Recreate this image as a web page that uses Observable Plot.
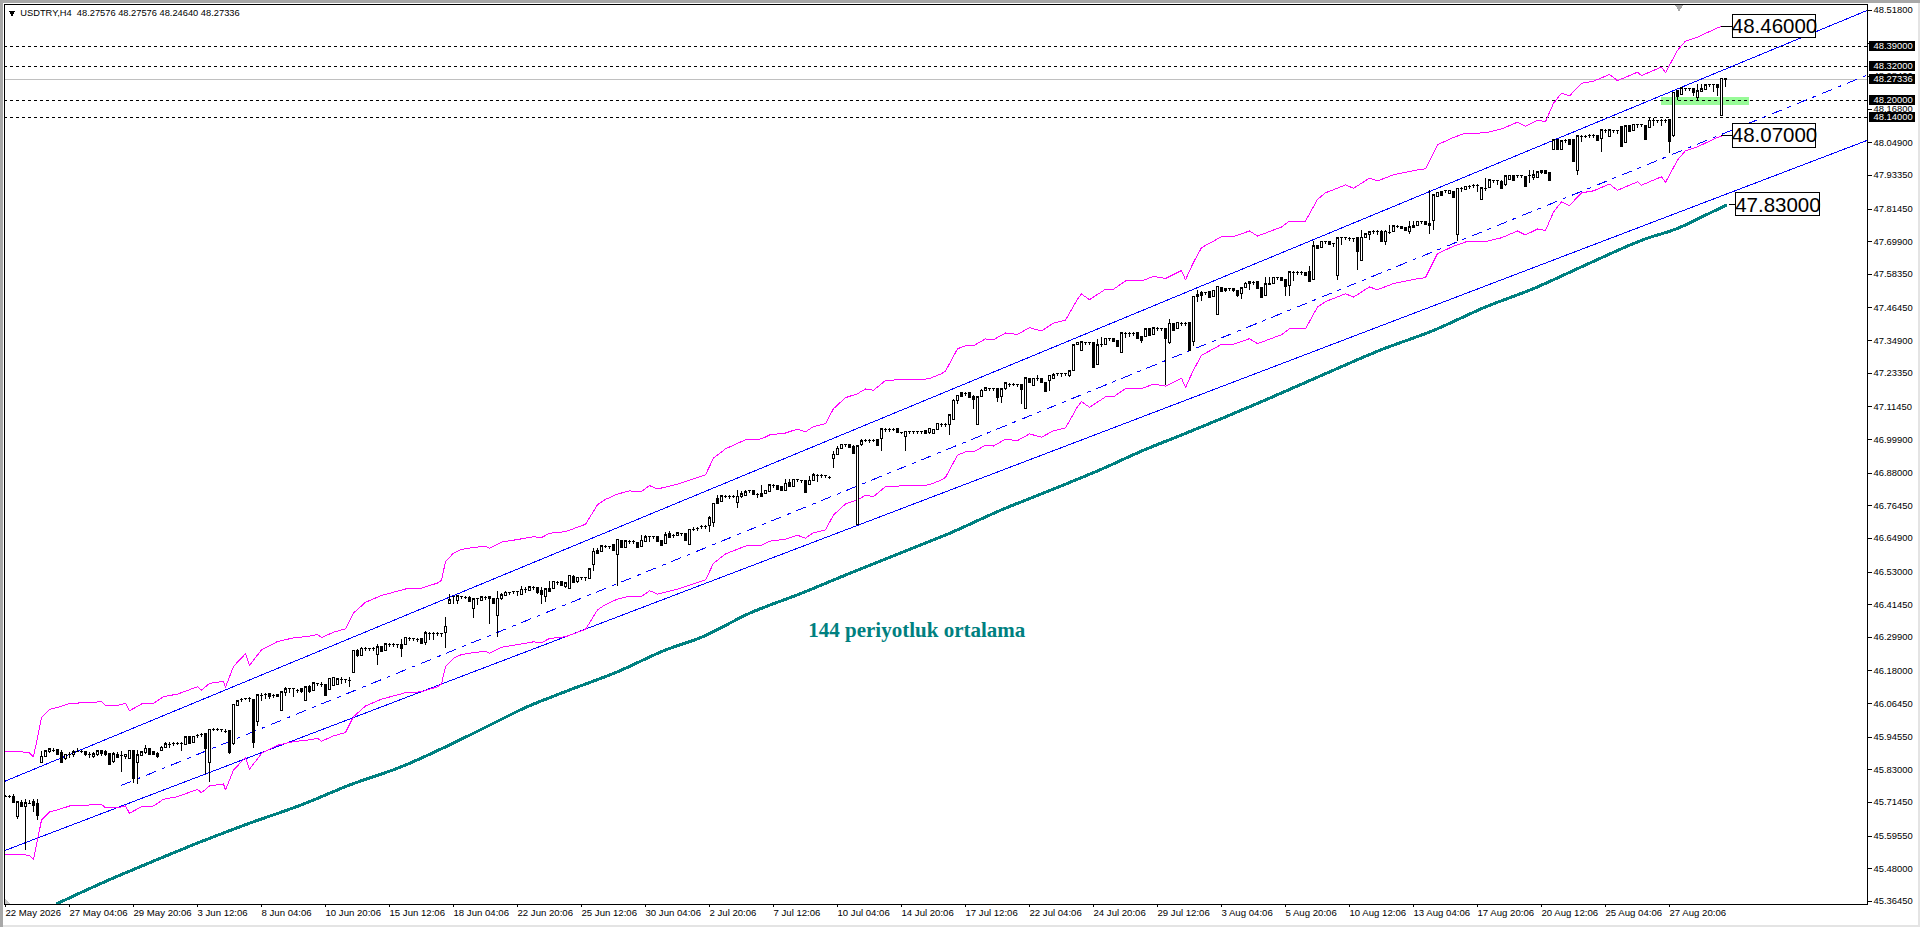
<!DOCTYPE html>
<html>
<head>
<meta charset="utf-8">
<title>USDTRY,H4</title>
<script src="https://cdn.jsdelivr.net/npm/d3@7"></script>
<script src="https://cdn.jsdelivr.net/npm/@observablehq/plot@0.6"></script>
<style>
html,body{margin:0;padding:0;background:#fff;overflow:hidden}
svg{display:block}
body::after{content:"";position:fixed;inset:0;pointer-events:none;box-shadow:inset 3px 3px 0 #a8a8a8,inset -2px -2px 0 #e4e4e4}
</style>
</head>
<body>
<div id="chart"></div>
<script>
const opens = [
45.735,45.735,45.735,45.662,45.713,45.699,45.711,45.716,45.709,45.855,45.876,45.893,45.900,45.900,45.888,45.869,
45.886,45.881,45.895,45.895,45.893,45.883,45.874,45.881,45.895,45.893,45.886,45.857,45.883,45.879,45.874,45.869,
45.897,45.855,45.879,45.888,45.905,45.893,45.886,45.897,45.907,45.921,45.924,45.924,45.924,45.917,45.945,45.924,
45.952,45.954,45.957,45.853,45.973,45.973,45.971,45.966,45.968,45.921,46.056,46.079,46.082,46.082,46.077,46.000,
46.094,46.098,46.098,46.094,46.095,46.039,46.101,46.117,46.117,46.112,46.115,46.072,46.124,46.110,46.134,46.131,
46.131,46.113,46.127,46.129,46.150,46.148,46.146,46.172,46.252,46.233,46.259,46.259,46.261,46.238,46.266,46.252,
46.275,46.275,46.273,46.273,46.271,46.294,46.294,46.292,46.292,46.278,46.313,46.313,46.313,46.311,46.313,46.417,
46.443,46.429,46.443,46.441,46.438,46.400,46.436,46.429,46.441,46.441,46.436,46.375,46.436,46.445,46.457,46.460,
46.460,46.448,46.467,46.462,46.476,46.474,46.464,46.443,46.471,46.471,46.493,46.495,46.478,46.471,46.511,46.493,
46.509,46.509,46.507,46.556,46.606,46.601,46.622,46.620,46.625,46.592,46.641,46.615,46.639,46.639,46.634,46.620,
46.637,46.655,46.655,46.655,46.639,46.629,46.663,46.660,46.658,46.665,46.665,46.627,46.680,46.685,46.691,46.691,
46.693,46.705,46.790,46.778,46.799,46.799,46.799,46.773,46.797,46.799,46.818,46.818,46.806,46.806,46.806,46.813,
46.837,46.835,46.830,46.818,46.846,46.832,46.856,46.853,46.851,46.839,46.851,46.872,46.872,46.870,46.865,46.931,
46.945,46.967,46.981,46.981,46.974,46.698,46.978,46.997,46.997,46.997,46.997,47.002,47.035,47.035,47.035,47.035,
47.023,47.009,47.026,47.026,47.026,47.026,47.028,47.021,47.019,47.033,47.052,47.052,47.051,47.068,47.136,47.162,
47.162,47.162,47.148,47.049,47.148,47.172,47.179,47.179,47.176,47.150,47.176,47.195,47.195,47.193,47.193,47.108,
47.214,47.188,47.216,47.214,47.200,47.207,47.212,47.231,47.231,47.231,47.224,47.242,47.332,47.313,47.342,47.342,
47.342,47.264,47.337,47.334,47.356,47.353,47.346,47.306,47.375,47.375,47.375,47.375,47.363,47.363,47.389,47.368,
47.393,47.391,47.389,47.339,47.408,47.389,47.410,47.410,47.412,47.344,47.511,47.518,47.518,47.520,47.503,47.440,
47.536,47.532,47.532,47.532,47.525,47.515,47.534,47.551,47.555,47.555,47.534,47.508,47.551,47.548,47.572,47.572,
47.565,47.541,47.591,47.591,47.591,47.588,47.591,47.565,47.683,47.676,47.699,47.697,47.692,47.579,47.713,47.713,
47.711,47.709,47.711,47.631,47.711,47.721,47.735,47.735,47.735,47.699,47.732,47.735,47.754,47.751,47.749,47.735,
47.756,47.754,47.770,47.770,47.763,47.772,47.857,47.876,47.879,47.869,47.874,47.721,47.888,47.883,47.895,47.898,
47.898,47.848,47.888,47.890,47.914,47.914,47.912,47.898,47.916,47.933,47.933,47.933,47.928,47.933,47.926,47.923,
47.942,47.949,47.942,48.025,48.058,48.025,48.058,48.058,48.058,47.950,48.073,48.073,48.075,48.075,48.073,48.063,
48.094,48.070,48.091,48.091,48.106,48.047,48.110,48.091,48.113,48.113,48.110,48.103,48.127,48.127,48.129,48.129,
48.129,48.073,48.233,48.217,48.240,48.240,48.238,48.209,48.228,48.235,48.254,48.254,48.252,48.143,48.27576];
const highs = [
45.738,45.739,45.742,45.716,45.723,45.725,45.720,45.725,45.725,45.895,45.895,45.906,45.907,45.902,45.900,45.886,
45.890,45.900,45.904,45.900,45.895,45.890,45.890,45.898,45.900,45.898,45.888,45.890,45.890,45.895,45.886,45.897,
45.897,45.897,45.893,45.916,45.907,45.895,45.893,45.911,45.928,45.928,45.928,45.927,45.926,45.947,45.947,45.949,
45.954,45.957,45.958,45.973,45.976,45.975,45.973,45.971,45.970,46.060,46.077,46.082,46.084,46.087,46.080,46.094,
46.099,46.100,46.101,46.096,46.098,46.105,46.120,46.119,46.119,46.115,46.117,46.122,46.127,46.136,46.136,46.138,
46.133,46.153,46.155,46.150,46.155,46.150,46.155,46.252,46.257,46.264,46.262,46.261,46.263,46.275,46.268,46.277,
46.277,46.277,46.275,46.292,46.297,46.297,46.296,46.294,46.294,46.318,46.316,46.315,46.315,46.313,46.370,46.452,
46.445,46.445,46.445,46.443,46.445,46.436,46.438,46.445,46.444,46.443,46.438,46.460,46.455,46.460,46.459,46.462,
46.462,46.478,46.477,46.480,46.478,46.476,46.474,46.471,46.497,46.497,46.495,46.497,46.492,46.518,46.519,46.511,
46.511,46.511,46.542,46.615,46.613,46.624,46.624,46.622,46.627,46.646,46.643,46.641,46.641,46.641,46.636,46.658,
46.658,46.657,46.657,46.657,46.641,46.670,46.672,46.662,46.669,46.667,46.667,46.679,46.686,46.689,46.693,46.693,
46.726,46.773,46.802,46.801,46.801,46.801,46.801,46.818,46.815,46.818,46.820,46.820,46.808,46.837,46.820,46.839,
46.839,46.837,46.832,46.856,46.856,46.858,46.858,46.855,46.853,46.867,46.877,46.874,46.874,46.872,46.867,46.955,
46.974,46.983,46.983,46.983,46.979,46.978,47.000,46.999,46.999,46.999,46.999,47.037,47.037,47.037,47.037,47.037,
47.025,47.028,47.028,47.028,47.028,47.028,47.030,47.039,47.035,47.056,47.054,47.054,47.085,47.139,47.153,47.164,
47.164,47.164,47.155,47.150,47.175,47.183,47.181,47.181,47.178,47.178,47.200,47.197,47.197,47.195,47.195,47.218,
47.216,47.216,47.225,47.216,47.202,47.226,47.231,47.233,47.233,47.233,47.242,47.334,47.344,47.347,47.344,47.344,
47.344,47.352,47.360,47.358,47.358,47.355,47.348,47.377,47.377,47.377,47.377,47.377,47.365,47.391,47.391,47.395,
47.395,47.393,47.391,47.422,47.410,47.414,47.412,47.412,47.414,47.506,47.528,47.522,47.520,47.522,47.527,47.541,
47.538,47.534,47.534,47.534,47.527,47.536,47.553,47.557,47.557,47.557,47.536,47.572,47.572,47.574,47.574,47.574,
47.567,47.593,47.593,47.593,47.593,47.590,47.610,47.699,47.685,47.701,47.701,47.699,47.694,47.713,47.715,47.715,
47.713,47.711,47.713,47.739,47.727,47.734,47.737,47.737,47.737,47.737,47.756,47.756,47.756,47.753,47.751,47.770,
47.770,47.772,47.772,47.772,47.881,47.866,47.874,47.878,47.881,47.881,47.876,47.888,47.892,47.895,47.897,47.900,
47.900,47.890,47.921,47.918,47.916,47.916,47.914,47.935,47.935,47.935,47.935,47.935,47.930,47.952,47.952,47.947,
47.951,47.951,47.944,48.062,48.060,48.056,48.060,48.060,48.060,48.075,48.075,48.075,48.077,48.077,48.075,48.096,
48.096,48.096,48.093,48.093,48.108,48.110,48.112,48.115,48.115,48.115,48.112,48.139,48.136,48.129,48.131,48.131,
48.131,48.228,48.235,48.244,48.242,48.242,48.240,48.254,48.254,48.254,48.256,48.256,48.254,48.278,48.27576];
const lows = [
45.731,45.729,45.711,45.655,45.697,45.544,45.706,45.678,45.652,45.855,45.872,45.889,45.891,45.879,45.855,45.862,
45.871,45.873,45.890,45.889,45.876,45.871,45.871,45.876,45.876,45.876,45.848,45.853,45.869,45.820,45.867,45.869,
45.780,45.777,45.876,45.886,45.884,45.881,45.869,45.895,45.905,45.905,45.914,45.916,45.895,45.915,45.922,45.922,
45.942,45.944,45.815,45.784,45.967,45.965,45.963,45.958,45.883,45.917,46.054,46.070,46.075,46.068,45.905,45.982,
46.073,46.080,46.079,46.084,46.085,46.037,46.089,46.099,46.087,46.100,46.100,46.072,46.100,46.108,46.125,46.122,
46.094,46.111,46.125,46.127,46.132,46.137,46.122,46.172,46.228,46.230,46.250,46.248,46.250,46.200,46.244,46.250,
46.264,46.262,46.261,46.226,46.269,46.285,46.283,46.281,46.273,46.271,46.287,46.289,46.302,46.300,46.261,46.417,
46.415,46.415,46.434,46.432,46.424,46.365,46.410,46.427,46.431,46.346,46.417,46.299,46.431,46.443,46.447,46.449,
46.445,46.446,46.455,46.460,46.466,46.450,46.415,46.422,46.460,46.469,46.484,46.479,46.470,46.467,46.491,46.491,
46.500,46.498,46.505,46.533,46.592,46.599,46.612,46.610,46.604,46.478,46.616,46.613,46.628,46.629,46.616,46.618,
46.635,46.636,46.645,46.635,46.623,46.627,46.651,46.649,46.656,46.654,46.639,46.625,46.672,46.674,46.680,46.681,
46.669,46.688,46.769,46.776,46.789,46.787,46.790,46.754,46.790,46.797,46.808,46.804,46.792,46.794,46.804,46.811,
46.827,46.821,46.818,46.815,46.830,46.830,46.846,46.843,46.809,46.837,46.849,46.846,46.862,46.860,46.856,46.898,
46.943,46.965,46.971,46.969,46.948,46.698,46.976,46.987,46.986,46.988,46.976,46.955,47.025,47.024,47.029,47.021,
47.017,46.955,47.016,47.015,47.016,47.015,47.019,47.015,47.017,47.031,47.043,47.042,47.012,47.066,47.122,47.148,
47.150,47.146,47.106,47.047,47.146,47.170,47.169,47.168,47.129,47.127,47.174,47.183,47.185,47.183,47.122,47.106,
47.200,47.186,47.206,47.198,47.167,47.169,47.210,47.221,47.220,47.222,47.218,47.240,47.330,47.311,47.332,47.330,
47.252,47.262,47.325,47.332,47.346,47.344,47.325,47.304,47.356,47.360,47.364,47.354,47.339,47.361,47.366,47.366,
47.383,47.381,47.191,47.337,47.384,47.387,47.400,47.399,47.311,47.328,47.483,47.489,47.508,47.501,47.501,47.438,
47.520,47.520,47.522,47.518,47.500,47.496,47.532,47.525,47.545,47.530,47.501,47.506,47.544,47.546,47.562,47.560,
47.506,47.506,47.558,47.581,47.580,47.577,47.556,47.563,47.674,47.674,47.689,47.688,47.678,47.560,47.687,47.703,
47.700,47.697,47.598,47.629,47.709,47.704,47.725,47.720,47.697,47.687,47.725,47.733,47.744,47.742,47.735,47.723,
47.747,47.752,47.760,47.759,47.725,47.737,47.855,47.862,47.869,47.867,47.853,47.699,47.872,47.881,47.885,47.888,
47.872,47.846,47.878,47.888,47.904,47.898,47.884,47.896,47.914,47.914,47.923,47.924,47.893,47.905,47.915,47.921,
47.938,47.938,47.912,48.023,48.025,48.023,48.048,48.042,47.981,47.933,48.049,48.063,48.065,48.066,48.056,48.016,
48.082,48.068,48.081,48.080,48.035,48.045,48.087,48.089,48.099,48.102,48.059,48.101,48.106,48.117,48.108,48.119,
48.011,48.068,48.200,48.215,48.230,48.229,48.212,48.200,48.226,48.233,48.244,48.226,48.212,48.141,48.2464];
const closes = [
45.735,45.735,45.713,45.716,45.699,45.711,45.711,45.704,45.669,45.876,45.895,45.902,45.900,45.886,45.855,45.883,
45.886,45.893,45.895,45.895,45.883,45.883,45.886,45.895,45.888,45.883,45.848,45.886,45.872,45.879,45.883,45.897,
45.801,45.881,45.893,45.905,45.886,45.883,45.876,45.909,45.921,45.921,45.924,45.924,45.924,45.945,45.924,45.947,
45.952,45.954,45.905,45.971,45.973,45.973,45.971,45.966,45.893,46.060,46.072,46.079,46.082,46.082,45.928,46.094,
46.094,46.098,46.089,46.094,46.089,46.105,46.115,46.117,46.117,46.112,46.108,46.122,46.108,46.136,46.134,46.131,
46.094,46.153,46.155,46.150,46.150,46.148,46.146,46.252,46.233,46.259,46.259,46.259,46.261,46.264,46.249,46.275,
46.275,46.275,46.273,46.259,46.297,46.294,46.294,46.292,46.278,46.313,46.313,46.313,46.313,46.311,46.337,46.431,
46.443,46.445,46.443,46.441,46.426,46.434,46.436,46.441,46.441,46.436,46.419,46.436,46.448,46.457,46.457,46.460,
46.460,46.467,46.467,46.476,46.476,46.457,46.452,46.469,46.462,46.495,46.493,46.481,46.490,46.516,46.493,46.509,
46.509,46.509,46.540,46.601,46.594,46.622,46.622,46.620,46.606,46.644,46.618,46.639,46.639,46.639,46.618,46.641,
46.653,46.655,46.655,46.637,46.625,46.660,46.653,46.660,46.667,46.665,46.641,46.679,46.680,46.685,46.691,46.691,
46.721,46.771,46.771,46.799,46.799,46.799,46.799,46.797,46.806,46.813,46.818,46.806,46.806,46.797,46.818,46.837,
46.837,46.823,46.820,46.842,46.832,46.856,46.856,46.853,46.811,46.853,46.872,46.872,46.872,46.870,46.865,46.945,
46.967,46.981,46.981,46.971,46.950,46.976,46.993,46.997,46.997,46.997,46.978,47.035,47.035,47.035,47.035,47.023,
47.023,47.026,47.026,47.026,47.026,47.026,47.021,47.037,47.033,47.054,47.052,47.052,47.084,47.136,47.153,47.150,
47.162,47.148,47.141,47.148,47.172,47.181,47.179,47.179,47.146,47.176,47.198,47.195,47.195,47.193,47.176,47.216,
47.202,47.214,47.216,47.200,47.169,47.224,47.226,47.231,47.231,47.231,47.240,47.332,47.342,47.344,47.342,47.342,
47.254,47.332,47.337,47.356,47.356,47.346,47.327,47.375,47.375,47.375,47.375,47.356,47.351,47.389,47.368,47.393,
47.393,47.391,47.358,47.408,47.386,47.412,47.410,47.410,47.313,47.504,47.504,47.508,47.518,47.503,47.525,47.539,
47.522,47.525,47.532,47.525,47.508,47.534,47.551,47.555,47.555,47.532,47.503,47.548,47.546,47.572,47.572,47.562,
47.539,47.591,47.591,47.591,47.591,47.579,47.558,47.683,47.676,47.699,47.699,47.690,47.692,47.711,47.713,47.713,
47.711,47.709,47.666,47.713,47.725,47.732,47.735,47.735,47.699,47.735,47.732,47.754,47.754,47.744,47.737,47.751,
47.749,47.770,47.770,47.761,47.756,47.864,47.872,47.864,47.879,47.879,47.855,47.886,47.888,47.893,47.895,47.898,
47.898,47.888,47.888,47.916,47.914,47.914,47.886,47.931,47.933,47.916,47.933,47.933,47.895,47.933,47.935,47.945,
47.949,47.940,47.914,48.058,48.027,48.054,48.058,48.044,47.983,48.073,48.073,48.073,48.075,48.075,48.058,48.094,
48.094,48.094,48.091,48.091,48.037,48.108,48.089,48.113,48.113,48.113,48.061,48.127,48.127,48.127,48.129,48.129,
48.054,48.226,48.214,48.242,48.240,48.240,48.228,48.231,48.238,48.252,48.254,48.254,48.245,48.276,48.27336];

const envBars = [0,4,6,7,8,9,11,13,16,19,24,25,28,30,31,34,37,39.5,43,48,49,51,54.5,55,
57,60,61,64,68,72,76,78,79,82,85,87,90,94,100,104,108,109,110,112,114,117,120,121,124,128,132,134,136,140,145,148,150,153,156,159,161,163,168,175,177,180,185,189,191,195,198,200,202,205,207,210,213,215,217,220,227,229,231,234,235,238,240,242,245,247,250,253,256,259,262,265,268,269,271,275,277,280,284,287,290,294,295,297,299,302,304,307,311,313,319,321,325,328,330,335,337,341,343,347,353,355,358,362,365,370,374,378,380,383,385,387,389,391,394,397,401,403,408,409,414,415,418,420,423,428,429];
const envLower = [45.532,45.531,45.527,45.513,45.582,45.652,45.681,45.688,45.702,45.704,45.708,45.695,45.695,45.702,45.676,45.700,45.702,45.726,45.735,45.761,45.749,45.773,45.780,45.759,
45.829,45.874,45.832,45.888,45.917,45.930,45.936,45.942,45.931,45.950,45.962,46.018,46.056,46.080,46.103,46.106,46.124,46.134,46.195,46.225,46.238,46.245,46.249,46.242,46.264,46.273,46.283,46.280,46.295,46.301,46.327,46.396,46.415,46.434,46.445,46.443,46.464,46.452,46.469,46.502,46.561,46.594,46.622,46.625,46.639,46.646,46.660,46.650,46.669,46.679,46.732,46.771,46.785,46.802,46.797,46.832,46.837,46.835,46.839,46.856,46.865,46.944,46.955,46.955,46.979,46.976,47.000,46.995,47.019,47.007,47.030,47.040,47.115,47.133,47.113,47.150,47.150,47.179,47.179,47.195,47.188,47.216,47.183,47.245,47.297,47.320,47.336,47.336,47.356,47.338,47.370,47.391,47.391,47.468,47.487,47.515,47.503,47.539,47.529,47.551,47.568,47.572,47.657,47.683,47.698,47.699,47.713,47.737,47.723,47.744,47.739,47.804,47.840,47.827,47.872,47.879,47.903,47.881,47.911,47.899,47.929,47.909,47.988,48.021,48.035,48.068,48.073];
const envUpper = [45.895,45.894,45.890,45.876,45.945,46.015,46.044,46.051,46.065,46.067,46.071,46.058,46.058,46.065,46.039,46.063,46.065,46.089,46.098,46.124,46.112,46.136,46.143,46.122,
46.196,46.241,46.199,46.255,46.284,46.297,46.303,46.309,46.298,46.317,46.329,46.385,46.423,46.447,46.470,46.473,46.491,46.501,46.567,46.597,46.610,46.617,46.621,46.614,46.636,46.645,46.655,46.652,46.667,46.673,46.699,46.768,46.787,46.806,46.817,46.815,46.836,46.824,46.841,46.874,46.933,46.966,46.998,47.001,47.015,47.022,47.036,47.026,47.045,47.055,47.108,47.147,47.161,47.178,47.173,47.208,47.213,47.211,47.215,47.232,47.241,47.320,47.331,47.331,47.355,47.352,47.376,47.371,47.395,47.383,47.411,47.421,47.496,47.514,47.494,47.531,47.531,47.560,47.560,47.576,47.569,47.597,47.564,47.626,47.678,47.701,47.717,47.717,47.737,47.719,47.751,47.772,47.772,47.849,47.872,47.900,47.888,47.924,47.914,47.936,47.953,47.957,48.042,48.068,48.083,48.084,48.098,48.122,48.108,48.129,48.124,48.189,48.225,48.215,48.260,48.267,48.291,48.269,48.299,48.287,48.317,48.297,48.376,48.409,48.423,48.456,48.461];

const maBars = [13,25,36,50,61,74,86,99,111,124,129,140,153,165,174,186,199,211,224,236,249,261,274,285,294,304,315,330,344,357,370,382,394,410,418,425,430];
const maValues = [45.357,45.435,45.501,45.582,45.641,45.706,45.776,45.841,45.918,46.009,46.044,46.107,46.177,46.254,46.299,46.384,46.455,46.525,46.599,46.667,46.750,46.818,46.894,46.964,47.015,47.073,47.139,47.232,47.317,47.385,47.468,47.533,47.610,47.709,47.746,47.793,47.827];

const channelEnds = [-0.25,465.5];
const channelUpper = [45.789,48.518];
const channelLower = [45.544,48.058];
const midBars = [29,465.5];
const midValues = [45.775,48.289];

const levels = [48.39,48.32,48.20,48.14];
const lastPrice = 48.27336;
const boxPrices = [48.39,48.32,48.27336,48.20,48.14];

const yTicks = [48.518,48.3995,48.284,48.168,48.049,47.9335,47.8145,47.699,47.5835,47.4645,47.349,47.2335,47.1145,46.999,46.88,46.7645,46.649,46.53,46.4145,46.299,46.18,46.0645,45.9455,45.83,45.7145,45.5955,45.48,45.3645];
const xLabels = ["22 May 2026","27 May 04:06","29 May 20:06","3 Jun 12:06","8 Jun 04:06","10 Jun 20:06","15 Jun 12:06","18 Jun 04:06","22 Jun 20:06","25 Jun 12:06","30 Jun 04:06","2 Jul 20:06","7 Jul 12:06","10 Jul 04:06","14 Jul 20:06","17 Jul 12:06","22 Jul 04:06","24 Jul 20:06","29 Jul 12:06","3 Aug 04:06","5 Aug 20:06","10 Aug 12:06","13 Aug 04:06","17 Aug 20:06","20 Aug 12:06","25 Aug 04:06","27 Aug 20:06"];
const xTickBars = xLabels.map((_,i)=>i*16);

const calloutText = ["48.46000","48.07000","47.83000"];
const calloutPrice = [48.461,48.0735,47.829];
const calloutFrom = [429,429,431];
const calloutX1 = [431.9,431.9,432.6];
const calloutX2 = [452.6,452.6,453.6];
const calloutTop = [48.501,48.116,47.871];
const calloutBottom = [48.420,48.031,47.790];

const zoneBars = [414,436];
const zonePrices = [48.180,48.208];

const headerText = "USDTRY,H4  48.27576 48.27576 48.24640 48.27336";
const maLabel = "144 periyotluk ortalama";

const bars = opens.map((o,i)=>({i,o,h:highs[i],l:lows[i],c:closes[i]}));
const env = envBars.map((b,i)=>({b,lo:envLower[i],up:envUpper[i]}));
const ma = maBars.map((b,i)=>({b,v:maValues[i]}));
const callouts = calloutText.map((t,i)=>({t,p:calloutPrice[i],f:calloutFrom[i],x1:calloutX1[i],x2:calloutX2[i],top:calloutTop[i],bot:calloutBottom[i]}));

const sans = "'Liberation Sans',Arial,sans-serif";
const cornerSymbol = {draw(c,s){const r=Math.sqrt(s/Math.PI);c.moveTo(-r,-r);c.lineTo(r,r);c.lineTo(-r,r);c.closePath();}};

const chart = Plot.plot({
  width:1920, height:927,
  marginLeft:4, marginRight:53, marginTop:4, marginBottom:23,
  x:{type:"linear",domain:[-0.25,465.5]},
  y:{type:"linear",domain:[45.3534,48.5385]},
  style:{fontFamily:sans,background:"transparent",shapeRendering:"crispEdges",overflow:"visible"},
  marks:[
    Plot.rect([0],{x1:()=>zoneBars[0],x2:()=>zoneBars[1],y1:()=>zonePrices[0],y2:()=>zonePrices[1],fill:"#98fb98"}),
    Plot.axisY(yTicks,{anchor:"right",tickFormat:d=>d.toFixed(5),tickSize:4,tickPadding:2,fontSize:9.4,fill:"#000",label:null}),
    Plot.axisX(xTickBars,{anchor:"bottom",tickFormat:d=>xLabels[d/16],tickSize:3,tickPadding:2,fontSize:9.6,textAnchor:"start",fill:"#000",label:null}),
    Plot.ruleY([lastPrice],{stroke:"#c0c0c0",strokeWidth:1}),
    Plot.ruleY(levels,{stroke:"#000",strokeWidth:1,strokeDasharray:"3,3"}),
    Plot.line(channelEnds.map((b,i)=>({b,v:channelUpper[i]})),{x:"b",y:"v",stroke:"#0000ff",strokeWidth:1,clip:true}),
    Plot.line(channelEnds.map((b,i)=>({b,v:channelLower[i]})),{x:"b",y:"v",stroke:"#0000ff",strokeWidth:1,clip:true}),
    Plot.line(midBars.map((b,i)=>({b,v:midValues[i]})),{x:"b",y:"v",stroke:"#0000ff",strokeWidth:1,strokeDasharray:"10,7,3,7",clip:true}),
    Plot.line(ma,{x:"b",y:"v",stroke:"#008080",strokeWidth:3,curve:"monotone-x"}),
    Plot.line(env,{x:"b",y:"up",stroke:"#ff00ff",strokeWidth:1}),
    Plot.line(env,{x:"b",y:"lo",stroke:"#ff00ff",strokeWidth:1}),
    Plot.ruleX(bars,{x:"i",y1:"l",y2:"h",stroke:"#000",strokeWidth:1}),
    Plot.rect(bars,{x1:d=>d.i-0.25,x2:d=>d.i+0.25,y1:"o",y2:"c",fill:d=>d.c>=d.o?"#fff":"#000",stroke:"#000",strokeWidth:1}),
    Plot.ruleY(bars,{y:"c",x1:d=>d.i-0.375,x2:d=>d.i+0.375,stroke:"#000",strokeWidth:1}),
    Plot.ruleY(callouts,{y:"p",x1:"f",x2:"x1",stroke:"#000",strokeWidth:1}),
    Plot.rect(callouts,{x1:"x1",x2:"x2",y1:"bot",y2:"top",fill:"#fff",stroke:"#000",strokeWidth:1}),
    Plot.text(callouts,{x:d=>(d.x1+d.x2)/2,y:"p",text:"t",fontSize:20.5,fill:"#000"}),
    Plot.rect(boxPrices,{x1:()=>466,x2:()=>477.5,y1:d=>d-0.0177,y2:d=>d+0.0177,fill:"#000"}),
    Plot.text(boxPrices,{x:()=>467,y:d=>d,text:d=>d.toFixed(5),textAnchor:"start",fontSize:9.4,fill:"#fff"}),
    Plot.text([maLabel],{x:()=>200.7,y:()=>46.325,text:d=>d,textAnchor:"start",fontFamily:"'Liberation Serif',serif",fontWeight:"bold",fontSize:21,fill:"#008080"}),
    Plot.text([headerText],{x:()=>3.7,y:()=>48.509,text:d=>d,textAnchor:"start",fontSize:9.3,fill:"#000"}),
    Plot.dot([0],{x:()=>1.6,y:()=>48.5095,symbol:"triangle",rotate:180,r:2.5,fill:"#000"}),
    Plot.dot([0],{x:()=>418.4,y:()=>48.532,symbol:"triangle",rotate:180,r:3.5,fill:"#a8a8a8"}),
    Plot.dot([0],{x:()=>0.6,y:()=>45.3645,symbol:cornerSymbol,r:3,fill:"#c8c8c8"}),
    Plot.frame({stroke:"#000",strokeWidth:1})
  ]
});
document.getElementById("chart").appendChild(chart);
</script>
</body>
</html>
